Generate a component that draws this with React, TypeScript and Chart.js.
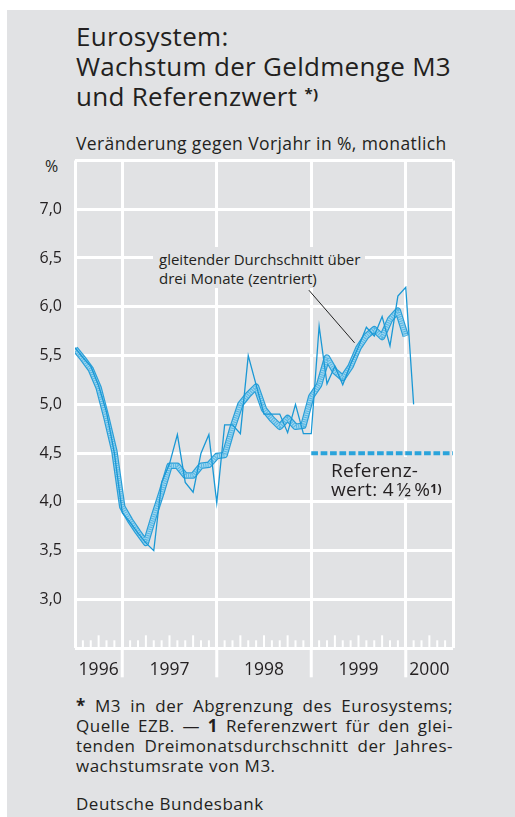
import React, { useEffect, useRef } from 'react';
import { Chart, registerables } from 'chart.js';

Chart.register(...registerables);

// Monthly growth of M3 vs. previous year (%), first point = left edge of axis (mid-1996)
const m3Monthly = [
  5.58, 5.48, 5.39, 5.19, 4.92, 4.50, 3.89, 3.79, 3.68, 3.58, 3.50, 4.20,
  4.39, 4.69, 4.20, 4.10, 4.50, 4.69, 3.99, 4.79, 4.79, 4.70, 5.50, 5.20,
  4.90, 4.90, 4.90, 4.71, 5.00, 4.70, 4.70, 5.80, 5.21, 5.39, 5.20, 5.41,
  5.59, 5.79, 5.70, 5.90, 5.60, 6.11, 6.20, 5.00,
];
// Centered three-month moving average (%)
const m3Avg3 = [
  5.57, 5.47, 5.36, 5.17, 4.86, 4.52, 3.95, 3.81, 3.69, 3.58, 3.85, 4.10,
  4.37, 4.37, 4.27, 4.27, 4.37, 4.38, 4.47, 4.48, 4.76, 5.00, 5.10, 5.18,
  4.95, 4.85, 4.77, 4.86, 4.77, 4.78, 5.08, 5.20, 5.48, 5.34, 5.27, 5.39,
  5.58, 5.70, 5.77, 5.69, 5.87, 5.96, 5.70,
];
// Reference value (%)
const refValue = 4.5;
const refFrom = 30;
const refTo = 48;

// Axis: months from left edge
const axisMonths = 48;
const yearLabels = ['1996', '1997', '1998', '1999', '2000'];
const yearLabelPos = [3, 12, 24, 36, 45];
const yearBounds = [6, 18, 30, 42];
const yTickMin = 2.5;
const yTickMax = 7.5;
const yTickStep = 0.5;

// Leader line of the annotation (data coordinates)
const leaderFrom = [29.7, 6.17];
const leaderTo = [35.5, 5.63];

const FONT = "'Open Sans', 'Noto Sans', sans-serif";
const BG = '#e1e2e4';
const TXT = '#231f20';
const WHITE = '#ffffff';

export default function App() {
  const ref = useRef<HTMLCanvasElement>(null);

  useEffect(() => {
    const canvas = ref.current;
    if (!canvas) return;

    const decor = {
      id: 'decor',
      beforeDatasetsDraw(chart: any) {
        const { ctx, chartArea: a, scales } = chart;
        const x = scales.x;
        const y = scales.y;
        ctx.save();
        // gridline hidden below the reference line
        const yr = y.getPixelForValue(refValue);
        const x0 = x.getPixelForValue(refFrom) + 1.5;
        ctx.fillStyle = BG;
        ctx.fillRect(x0, yr - 2, a.right - 1.5 - x0, 4);
        // monthly ticks
        ctx.fillStyle = WHITE;
        for (let m = 1; m < axisMonths; m++) {
          if (yearBounds.includes(m)) continue;
          const px = x.getPixelForValue(m);
          const h = m % 3 === 0 ? 13 : 8;
          ctx.fillRect(px - 1, a.bottom - h, 2, h);
        }
        // year separators below the axis
        for (const b of yearBounds) {
          const px = x.getPixelForValue(b);
          ctx.fillRect(px - 1.5, a.bottom, 3, 29);
        }
        ctx.restore();
      },
      afterDatasetsDraw(chart: any) {
        const { ctx, scales } = chart;
        const x = scales.x;
        const y = scales.y;
        ctx.save();
        ctx.strokeStyle = '#222';
        ctx.lineWidth = 1;
        ctx.beginPath();
        ctx.moveTo(x.getPixelForValue(leaderFrom[0]), y.getPixelForValue(leaderFrom[1]));
        ctx.lineTo(x.getPixelForValue(leaderTo[0]), y.getPixelForValue(leaderTo[1]));
        ctx.stroke();
        ctx.restore();
      },
    };

    const avgPts = m3Avg3.map((v, i) => ({ x: i, y: v }));
    const chart = new Chart(canvas, {
      type: 'line',
      data: {
        datasets: [
          {
            data: m3Monthly.map((v, i) => ({ x: i, y: v })),
            borderColor: '#1a98d5',
            borderWidth: 1.3,
            pointRadius: 0,
            order: 0,
          },
          {
            data: avgPts,
            borderColor: '#55b5e2',
            borderWidth: 4,
            borderDash: [1, 1.2],
            borderJoinStyle: 'round',
            pointRadius: 0,
            order: 1,
          },
          {
            data: avgPts,
            borderColor: '#9fd6f0',
            borderWidth: 4,
            borderJoinStyle: 'round',
            pointRadius: 0,
            order: 2,
          },
          {
            data: avgPts,
            borderColor: '#2a9fd8',
            borderWidth: 6.5,
            borderJoinStyle: 'round',
            pointRadius: 0,
            order: 3,
          },
          {
            data: [
              { x: refFrom, y: refValue },
              { x: refTo, y: refValue },
            ],
            borderColor: '#2aa4db',
            borderWidth: 4,
            borderDash: [6.7, 2.7],
            pointRadius: 0,
            order: 4,
          },
        ] as any,
      },
      options: {
        animation: false,
        responsive: false,
        maintainAspectRatio: false,
        layout: { padding: { left: 0, right: 17, top: 10.4, bottom: 0 } },
        plugins: { legend: { display: false }, tooltip: { enabled: false } },
        scales: {
          x: {
            type: 'linear',
            min: 0,
            max: axisMonths,
            afterBuildTicks: (s: any) => {
              const vals = [0, ...yearLabelPos, ...yearBounds, axisMonths].sort((a, b) => a - b);
              s.ticks = vals.map((v) => ({ value: v }));
            },
            afterFit: (s: any) => {
              s.height = 41.7;
              s.paddingLeft = 0;
              s.paddingRight = 0;
            },
            border: { display: false },
            grid: {
              color: (c: any) =>
                c.tick && (yearBounds.includes(c.tick.value) || c.tick.value === 0 || c.tick.value === axisMonths)
                  ? WHITE
                  : 'rgba(0,0,0,0)',
              lineWidth: 3,
              drawTicks: false,
            },
            ticks: {
              autoSkip: false,
              maxRotation: 0,
              padding: 11,
              color: TXT,
              font: { family: FONT, size: 17.5 },
              callback: (v: any) => {
                const k = yearLabelPos.indexOf(Number(v));
                return k >= 0 ? yearLabels[k] : '';
              },
            },
          },
          y: {
            min: yTickMin,
            max: yTickMax,
            afterFit: (s: any) => {
              s.width = 55;
              s.paddingTop = 0;
              s.paddingBottom = 0;
            },
            border: { display: false },
            grid: { color: WHITE, lineWidth: 3, drawTicks: false },
            ticks: {
              stepSize: yTickStep,
              padding: 13,
              color: TXT,
              font: { family: FONT, size: 16 },
              callback: (v: any) =>
                v < 2.9 || v > 7.1 ? '' : Number(v).toFixed(1).replace('.', ','),
            },
          },
        },
      },
      plugins: [decor],
    });
    return () => chart.destroy();
  }, []);

  const abs = (l: number, t: number, extra: any = {}) => ({
    position: 'absolute' as const,
    left: l,
    top: t,
    ...extra,
  });

  return (
    <div style={{ position: 'absolute', left: 0, top: 0, width: 515, height: 817, overflow: 'hidden', fontFamily: FONT, color: TXT }}>
      <div style={abs(7, 10, { width: 508, height: 807, background: BG })} />
      <div style={abs(76, 21, { fontSize: 26, letterSpacing: 0.3, lineHeight: '30px', whiteSpace: 'nowrap' })}>
        <div>Eurosystem:</div>
        <div>Wachstum der Geldmenge M3</div>
        <div>
          und Referenzwert{' '}
          <span style={{ fontSize: 15, fontWeight: 700, verticalAlign: 'top', position: 'relative', top: -3 }}>*)</span>
        </div>
      </div>
      <div style={abs(76, 132, { fontSize: 17.5, letterSpacing: 0.4, lineHeight: '22px', whiteSpace: 'nowrap' })}>
        Veränderung gegen Vorjahr in %, monatlich
      </div>
      <div style={abs(45, 156, { fontSize: 16, lineHeight: '20px' })}>%</div>
      <canvas ref={ref} width={450} height={540} style={abs(20, 150, { width: 450, height: 540 })} />
      <div style={abs(153, 247, { width: 212, height: 41, background: BG, boxSizing: 'border-box', paddingLeft: 6, paddingTop: 3, fontSize: 15, lineHeight: '19px', whiteSpace: 'nowrap' })}>
        <div>gleitender Durchschnitt über</div>
        <div>drei Monate (zentriert)</div>
      </div>
      <div style={abs(322, 457, { width: 125, height: 41, background: BG, boxSizing: 'border-box', paddingLeft: 9, paddingTop: 3.5, fontSize: 19, letterSpacing: 0.3, lineHeight: '19px', whiteSpace: 'nowrap' })}>
        <div>Referenz-</div>
        <div>
          wert: 4&#8239;½&#8239;%
          <span style={{ fontSize: 12, fontWeight: 700, verticalAlign: 'top', position: 'relative', top: -1 }}>1)</span>
        </div>
      </div>
      <div style={abs(76, 696, { width: 377, fontSize: 17, letterSpacing: 0.5, lineHeight: '20px' })}>
        <div style={{ textAlign: 'justify', textAlignLast: 'justify', whiteSpace: 'nowrap' }}>
          <b>*</b> M3 in der Abgrenzung des Eurosystems;
        </div>
        <div style={{ textAlign: 'justify', textAlignLast: 'justify', whiteSpace: 'nowrap' }}>
          Quelle EZB. — <b>1</b> Referenzwert für den glei-
        </div>
        <div style={{ textAlign: 'justify', textAlignLast: 'justify', whiteSpace: 'nowrap' }}>
          tenden Dreimonatsdurchschnitt der Jahres-
        </div>
        <div style={{ whiteSpace: 'nowrap' }}>wachstumsrate von M3.</div>
      </div>
      <div style={abs(76, 794, { fontSize: 17, letterSpacing: 0.5, lineHeight: '20px', whiteSpace: 'nowrap' })}>Deutsche Bundesbank</div>
    </div>
  );
}
